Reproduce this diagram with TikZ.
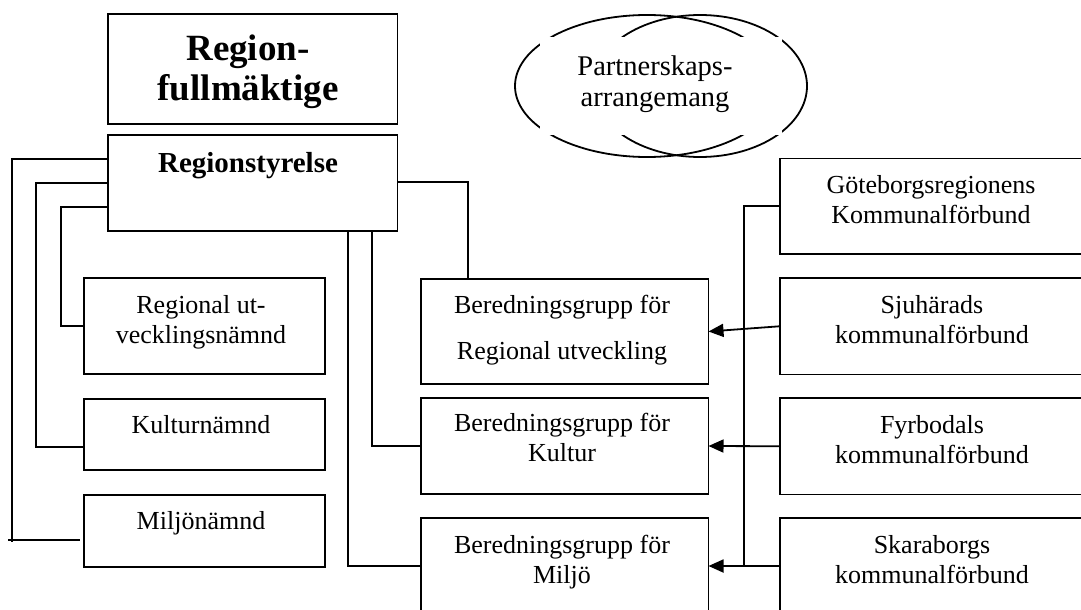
\documentclass[tikz,border=0pt]{standalone}
\usepackage{fontspec}
\setmainfont{Liberation Serif}
\usetikzlibrary{arrows.meta,shapes.geometric}
\begin{document}
\begin{tikzpicture}[x=1pt,y=-1pt,
  box/.style={draw, line width=1.8pt, rectangle, inner sep=0pt, outer sep=0pt},
  oval/.style={draw, line width=1.8pt, ellipse, inner sep=0pt, outer sep=0pt},
  conn/.style={line width=1.8pt},
  arr/.style={conn, -{Triangle[length=15pt,width=13pt]}},
  txt/.style={anchor=base, inner sep=0pt, font=\fontsize{26}{30}\selectfont},
  bigtxt/.style={anchor=base, inner sep=0pt, font=\fontsize{37}{40}\selectfont\bfseries},
  midtxt/.style={anchor=base, inner sep=0pt, font=\fontsize{29}{32}\selectfont\bfseries},
  ovtxt/.style={anchor=base, inner sep=0pt, font=\fontsize{28.5}{31}\selectfont}]
\useasboundingbox (0,0) rectangle (1081,610);
\clip (0,0) rectangle (1081,610);

% partnership ovals
\node[oval, minimum width=264pt, minimum height=142pt] (e1) at (647,86) {};
\node[oval, minimum width=214pt, minimum height=142pt] (e2) at (700,86) {};
\node[fill=white, inner sep=0pt, minimum width=242pt, minimum height=98pt] (pa) at (661,86) {};
\node[ovtxt] (tpa) at (655,75) {\begin{tabular}[t]{@{}c@{}}Partnerskaps-\\arrangemang\end{tabular}};

% boxes
\node[box, minimum width=289.5pt, minimum height=110pt] (RF) at (252.75,69) {};
\node[box, minimum width=289.5pt, minimum height=96pt] (RS) at (252.75,183) {};
\node[box, minimum width=241pt, minimum height=96pt] (RUN) at (204.5,326) {};
\node[box, minimum width=241pt, minimum height=71pt] (KN) at (204.5,434.5) {};
\node[box, minimum width=241pt, minimum height=72pt] (MN) at (204.5,531) {};
\node[box, minimum width=287.5pt, minimum height=105pt] (BR) at (564.75,331.5) {};
\node[box, minimum width=287.5pt, minimum height=96pt] (BK) at (564.75,446) {};
\node[box, minimum width=287.5pt, minimum height=96pt] (BM) at (564.75,566) {};
\node[box, minimum width=303pt, minimum height=95.5pt] (GK) at (931.5,206.25) {};
\node[box, minimum width=303pt, minimum height=96.5pt] (SJ) at (931.5,326.25) {};
\node[box, minimum width=303pt, minimum height=96.5pt] (FY) at (931.5,446.25) {};
\node[box, minimum width=303pt, minimum height=96pt] (SK) at (931.5,566) {};

% texts
\node[bigtxt] (trf) at (248,60) {\begin{tabular}[t]{@{}c@{}}Region-\\fullmäktige\end{tabular}};
\node[midtxt] (trs) at (248,172) {Regionstyrelse};
\node[txt] (trun) at (201,313) {\begin{tabular}[t]{@{}c@{}}Regional ut-\\vecklingsnämnd\end{tabular}};
\node[txt] (tkn) at (201,433) {Kulturnämnd};
\node[txt] (tmn) at (201,529) {Miljönämnd};
\node[txt] (tbr) at (562,313) {\begin{tabular}[t]{@{}c@{}}Beredningsgrupp för\\[16pt]Regional utveckling\end{tabular}};
\node[txt] (tbk) at (562,431) {\begin{tabular}[t]{@{}c@{}}Beredningsgrupp för\\Kultur\end{tabular}};
\node[txt] (tbm) at (562,553) {\begin{tabular}[t]{@{}c@{}}Beredningsgrupp för\\Miljö\end{tabular}};
\node[txt] (tgk) at (931,193) {\begin{tabular}[t]{@{}c@{}}Göteborgsregionens\\Kommunalförbund\end{tabular}};
\node[txt] (tsj) at (932,313) {\begin{tabular}[t]{@{}c@{}}Sjuhärads\\kommunalförbund\end{tabular}};
\node[txt] (tfy) at (932,433) {\begin{tabular}[t]{@{}c@{}}Fyrbodals\\kommunalförbund\end{tabular}};
\node[txt] (tsk) at (932,553) {\begin{tabular}[t]{@{}c@{}}Skaraborgs\\kommunalförbund\end{tabular}};

% left connectors
\draw[conn] (RS.west |- 0,159) -- (12,159) -- (12,542);
\coordinate (mstub) at (8,540);
\path (MN.west |- mstub) ++(-4,0) coordinate (mend);
\draw[conn] (mstub) -- (mend);
\draw[conn] (RS.west |- 0,183) -- (36,183) |- (KN.west |- 0,447);
\draw[conn] (RS.west |- 0,207) -- (61,207) |- (RUN.west);
% middle connectors
\draw[conn] (RS.south -| 348,0) |- (BM.west);
\draw[conn] (RS.south -| 372,0) |- (BK.west);
\draw[conn] (RS.east |- 0,182) -| (BR.north -| 468,0);
% right connectors
\draw[conn] (GK.west) -- (GK.west -| 744,0) -- (SK.west -| 744,0);
\draw[arr] (SJ.west) -- (BR.east);
\draw[arr] (FY.west) -- (BK.east);
\draw[arr] (SK.west) -- (BM.east);
\end{tikzpicture}
\end{document}
